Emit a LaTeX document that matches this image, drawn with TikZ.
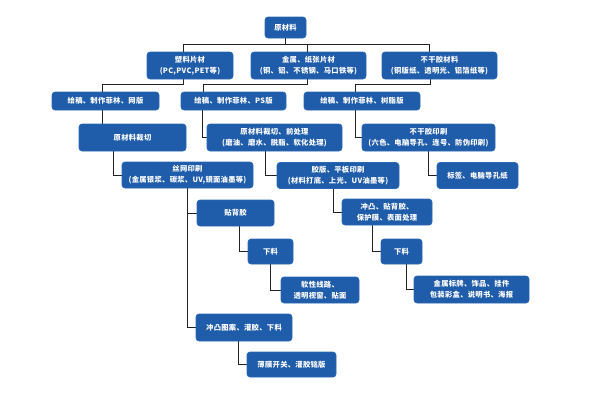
\documentclass[tikz,border=0pt]{standalone}
\usepackage{fontspec}
\newfontfamily\cjk[LetterSpace=4]{Noto Sans CJK SC}
\usetikzlibrary{calc,backgrounds}
\definecolor{boxblue}{HTML}{1F5CA9}
\definecolor{boxedge}{HTML}{2A68B5}
\definecolor{linec}{HTML}{222222}
\begin{document}
\begin{tikzpicture}[x=1pt,y=-1pt,
  box/.style={draw=boxedge,fill=boxblue,rounded corners=3pt,text=white,
    font=\cjk\bfseries\fontsize{7.3}{11}\selectfont,align=center,inner sep=1pt,
    line width=0.6pt},
  conn/.style={draw=linec,line width=1pt}]
\useasboundingbox (0,0) rectangle (600,400);
\coordinate (bus) at (285.5,44);
% nodes
\node[box,minimum width=41pt,minimum height=21pt] (yuan) at (285.5,27.5) {原材料};
\node[box,minimum width=86pt,minimum height=27pt] (suliao) at (190,65.5) {塑料片材\\(PC,PVC,PET等)};
\node[box,minimum width=115pt,minimum height=27pt] (jinshu) at (308.5,65.5) {金属、纸张片材\\(铜、铝、不锈钢、马口铁等)};
\node[box,minimum width=115pt,minimum height=27pt] (bugan) at (439.5,65.5) {不干胶材料\\(铜版纸、透明光、铝箔纸等)};
\node[box,minimum width=107pt,minimum height=18pt] (ra) at (105.5,101) {绘稿、制作菲林、网版};
\node[box,minimum width=105pt,minimum height=18pt] (rb) at (233.5,101) {绘稿、制作菲林、PS版};
\node[box,minimum width=116pt,minimum height=18pt] (rc) at (362,101) {绘稿、制作菲林、树脂版};
\node[box,minimum width=107pt,minimum height=27pt] (caiqie) at (132.5,137.5) {原材料裁切};
\node[box,minimum width=135pt,minimum height=27pt] (qian) at (274.5,137.5) {原材料裁切、前处理\\(磨油、磨水、脱脂、软化处理)};
\node[box,minimum width=133pt,minimum height=27pt] (buyin) at (428.5,137.5) {不干胶印刷\\(六色、电脑导孔、连号、防伪印刷)};
\node[box,minimum width=131pt,minimum height=26pt] (siwang) at (187.5,175) {丝网印刷\\(金属银浆、碳浆、UV,镜面油墨等)};
\node[box,minimum width=122pt,minimum height=26pt] (jiaoban) at (338,175.5) {胶版、平板印刷\\(材料打底、上光、UV油墨等)};
\node[box,minimum width=81pt,minimum height=26pt] (biaoqian) at (477.5,175.5) {标签、电脑导孔纸};
\node[box,minimum width=77pt,minimum height=26pt] (tiebei) at (235.5,213) {贴背胶};
\node[box,minimum width=90pt,minimum height=26pt] (chongtu) at (387,212) {冲凸、贴背胶、\\保护膜、表面处理};
\node[box,minimum width=45pt,minimum height=25pt] (xlL) at (270.5,251.5) {下料};
\node[box,minimum width=41pt,minimum height=25pt] (xlR) at (401.5,251.5) {下料};
\node[box,minimum width=78pt,minimum height=26pt] (ruan) at (320,290) {软性线路、\\透明视窗、贴面};
\node[box,minimum width=115pt,minimum height=27pt] (jsb) at (471.5,289.5) {金属标牌、饰品、挂件\\包装彩盒、说明书、海报};
\node[box,minimum width=96pt,minimum height=27pt] (ctt) at (244,327.5) {冲凸图案、灌胶、下料};
\node[box,minimum width=89pt,minimum height=25pt] (bomo) at (291.5,364.5) {薄膜开关、灌胶铭版};
% connectors (behind boxes)
\begin{pgfonlayer}{background}
\draw[conn] (yuan.south) -- (bus);
\draw[conn] (bus) -| ([xshift=-7pt]suliao.north);
\draw[conn] (bus) -| ([xshift=-1.5pt]jinshu.north);
\draw[conn] (bus) -| ([xshift=-10pt]bugan.north);
\draw[conn] ([xshift=-7pt]suliao.south) -- ++(0,5) -| ([xshift=-3.5pt]ra.north);
\draw[conn] ([xshift=-1.5pt]jinshu.south) -- ++(0,5) -| ([xshift=-30.5pt]rb.north);
\draw[conn] ([xshift=-9.5pt]bugan.south) -- ++(0,5) -| ([xshift=-7pt]rc.north);
\draw[conn] ([xshift=-3.5pt]ra.south) coordinate (t1) -- (t1 |- caiqie.north);
\draw[conn] ([xshift=-31.5pt]rb.south) |- (qian.west);
\draw[conn] ([xshift=-7pt]rc.south) |- (buyin.west);
\draw[conn] ([xshift=-19.5pt]caiqie.south) |- (siwang.west);
\draw[conn] ([xshift=-9.5pt]qian.south) |- (jiaoban.west);
\draw[conn] (buyin.south) |- (biaoqian.west);
\draw[conn] (siwang.south) |- (tiebei.west);
\draw[conn] (siwang.south) |- (ctt.west);
\draw[conn] ([xshift=-5pt]jiaoban.south) |- (chongtu.west);
\draw[conn] ([xshift=3.5pt]tiebei.south) |- (xlL.west);
\draw[conn] ([xshift=-15pt]chongtu.south) |- (xlR.west);
\draw[conn] (xlL.south) |- (ruan.west);
\draw[conn] ([xshift=4.5pt]xlR.south) |- (jsb.west);
\draw[conn] ([xshift=-6pt]ctt.south) |- (bomo.west);
\end{pgfonlayer}
\end{tikzpicture}
\end{document}
